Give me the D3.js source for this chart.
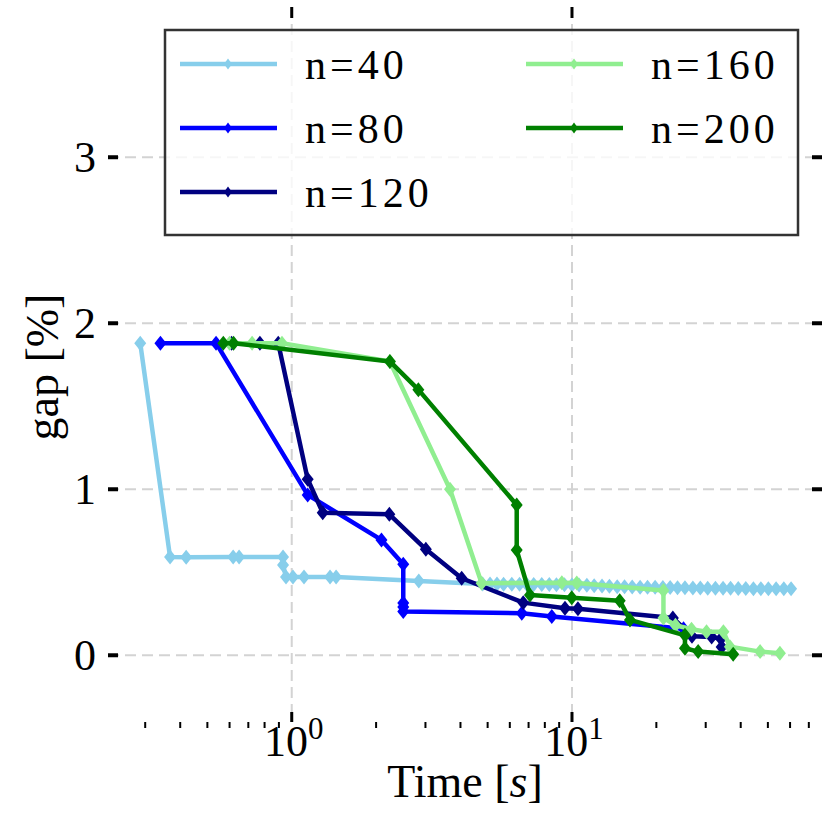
<!DOCTYPE html>
<html>
<head>
<meta charset="utf-8">
<script src="https://cdn.jsdelivr.net/npm/d3@7"></script>
<style>
  body { margin: 0; background: #fff; }
  text { font-family: "Liberation Serif", "DejaVu Serif", serif; fill: #000; }
</style>
</head>
<body>
<div id="chart"></div>
<script>
'use strict';

// series: [time (s), gap (%)]
const n40 = [
    [0.288, 1.88], [0.368, 0.592], [0.42, 0.59], [0.618, 0.592], [0.649, 0.592],
    [0.931, 0.592], [0.931, 0.544], [0.954, 0.472], [1.01, 0.472], [1.106, 0.472],
    [1.37, 0.472], [1.44, 0.472], [2.84, 0.448],
    [4.8, 0.43], [5.1, 0.43], [5.4, 0.43], [5.7, 0.428], [6.1, 0.428], [6.5, 0.428],
    [6.9, 0.427], [7.3, 0.427], [7.8, 0.426], [8.3, 0.426], [8.8, 0.425], [9.4, 0.425],
    [10.0, 0.424], [10.6, 0.423], [11.3, 0.421], [12.0, 0.419], [12.8, 0.417], [13.6, 0.415],
    [14.5, 0.413], [15.4, 0.412], [16.4, 0.411], [17.5, 0.41], [18.6, 0.41], [19.8, 0.409],
    [21.1, 0.408], [22.4, 0.408], [23.8, 0.407], [25.3, 0.406], [27.0, 0.405], [28.7, 0.405],
    [30.5, 0.404], [32.5, 0.404], [34.6, 0.403], [36.8, 0.403], [39.2, 0.402], [41.7, 0.402],
    [44.4, 0.401], [47.2, 0.401], [50.2, 0.40], [53.5, 0.40], [57.0, 0.40], [60.5, 0.40]
];
const n80 = [
    [0.34, 1.88], [0.537, 1.88], [1.14, 0.966], [2.09, 0.695], [2.5, 0.548],
    [2.5, 0.315], [2.5, 0.29], [2.5, 0.263], [6.62, 0.253], [8.47, 0.233], [25.0, 0.16]
];
const n120 = [
    [0.61, 1.88], [0.77, 1.88], [0.895, 1.88], [1.14, 1.06], [1.29, 0.859], [2.23, 0.849],
    [3.01, 0.638], [4.04, 0.464], [6.7, 0.317], [9.44, 0.283], [10.5, 0.28], [22.9, 0.225],
    [26.8, 0.115], [31.5, 0.11], [34.0, 0.10], [34.2, 0.05]
];
const n160 = [
    [0.60, 1.88], [0.722, 1.88], [0.923, 1.88], [2.24, 1.77], [3.67, 1.0], [4.76, 0.434],
    [9.2, 0.437], [10.4, 0.435], [21.2, 0.39], [21.2, 0.225], [23.4, 0.181], [26.7, 0.157],
    [30.2, 0.142], [34.7, 0.142], [36.6, 0.052], [46.9, 0.022], [55.2, 0.012]
];
const n200 = [
    [0.57, 1.88], [0.62, 1.88], [2.24, 1.77], [2.83, 1.60], [6.35, 0.905], [6.35, 0.634],
    [7.08, 0.363], [9.98, 0.347], [14.8, 0.329], [16.1, 0.213], [25.3, 0.12], [25.3, 0.042],
    [28.2, 0.022], [37.6, 0.006]
];

const seriesNames = ['n=40', 'n=80', 'n=120', 'n=160', 'n=200'];
const seriesColors = ['#87ceeb', '#0000ff', '#000080', '#90ee90', '#008000'];
const seriesData = [n40, n80, n120, n160, n200];

const yTicks = [0, 1, 2, 3];
const xTicks = [1, 10];
const xMinorTicks = [0.3, 0.4, 0.5, 0.6, 0.7, 0.8, 0.9, 2, 3, 4, 5, 6, 7, 8, 9, 20, 30, 40, 50, 60, 70];

// dimensions of the plot area
var margin = {top: 7, right: 8, bottom: 108, left: 108},
    W = 830, H = 830,
    width = W - margin.left - margin.right,
    height = H - margin.top - margin.bottom;

var x = d3.scaleLog().domain([0.221, 78]).range([0, width]);
var y = d3.scaleLinear().domain([-0.402, 3.905]).range([height, 0]);

var svg = d3.select('#chart').append('svg')
    .attr('width', W).attr('height', H);
var g = svg.append('g')
    .attr('transform', 'translate(' + margin.left + ',' + margin.top + ')');

// grid
g.selectAll('.gx').data(xTicks).enter().append('line')
    .attr('x1', d => x(d)).attr('x2', d => x(d))
    .attr('y1', 0).attr('y2', height)
    .attr('stroke', '#d3d3d3').attr('stroke-width', 2).attr('stroke-dasharray', '11,6');
g.selectAll('.gy').data(yTicks).enter().append('line')
    .attr('x1', 0).attr('x2', width)
    .attr('y1', d => y(d)).attr('y2', d => y(d))
    .attr('stroke', '#d3d3d3').attr('stroke-width', 2).attr('stroke-dasharray', '11,6');

// ticks (major pointing in, minor pointing out at the bottom)
var tk = g.append('g').attr('stroke', '#000');
xTicks.forEach(function(d){
    tk.append('line').attr('x1', x(d)).attr('x2', x(d)).attr('y1', height).attr('y2', height - 10).attr('stroke-width', 3);
    tk.append('line').attr('x1', x(d)).attr('x2', x(d)).attr('y1', 0).attr('y2', 11).attr('stroke-width', 3);
});
xMinorTicks.forEach(function(d){
    tk.append('line').attr('x1', x(d)).attr('x2', x(d)).attr('y1', height).attr('y2', height + 6).attr('stroke-width', 2);
});
yTicks.forEach(function(d){
    tk.append('line').attr('x1', 0).attr('x2', 10).attr('y1', y(d)).attr('y2', y(d)).attr('stroke-width', 4);
    tk.append('line').attr('x1', width).attr('x2', width - 10).attr('y1', y(d)).attr('y2', y(d)).attr('stroke-width', 4);
});

// tick labels
g.selectAll('.yl').data(yTicks).enter().append('text')
    .attr('x', -12).attr('y', d => y(d)).attr('dy', '0.34em')
    .attr('text-anchor', 'end').attr('font-size', 44)
    .text(d => d);
xTicks.forEach(function(d){
    var t = g.append('text')
        .attr('x', x(d) + 2).attr('y', height + 34)
        .attr('text-anchor', 'middle').attr('font-size', 44);
    t.append('tspan').text('10');
    t.append('tspan').attr('font-size', 31).attr('dy', -17).text(Math.round(Math.log10(d)));
});

// axis titles
var xt = svg.append('text')
    .attr('x', 465).attr('y', 797)
    .attr('text-anchor', 'middle').attr('font-size', 46);
xt.append('tspan').text('Time [');
xt.append('tspan').attr('font-style', 'italic').text('s');
xt.append('tspan').text(']');
svg.append('text')
    .attr('transform', 'translate(58,367) rotate(-90)')
    .attr('text-anchor', 'middle').attr('font-size', 46)
    .text('gap [%]');

// lines and markers
var line = d3.line().x(d => x(d[0])).y(d => y(d[1]));
var diamond = function(h, w){ return 'M0,' + (-h) + 'L' + w + ',0L0,' + h + 'L' + (-w) + ',0Z'; };

seriesData.forEach(function(data, i){
    var s = g.append('g');
    s.append('path').datum(data)
        .attr('d', line)
        .attr('fill', 'none')
        .attr('stroke', seriesColors[i])
        .attr('stroke-width', 4.5)
        .attr('stroke-linejoin', 'round');
    s.selectAll('path.m').data(data).enter().append('path')
        .attr('class', 'm')
        .attr('d', diamond(7.5, 6))
        .attr('transform', d => 'translate(' + x(d[0]) + ',' + y(d[1]) + ')')
        .attr('fill', seriesColors[i]);
});

// legend
var lg = svg.append('g');
lg.append('rect')
    .attr('x', 165).attr('y', 30).attr('width', 633).attr('height', 205)
    .attr('fill', '#fff').attr('fill-opacity', 0.8)
    .attr('stroke', '#333').attr('stroke-width', 2.5);
seriesNames.forEach(function(name, i){
    var col = i < 3 ? 0 : 1, row = i < 3 ? i : i - 3;
    var lx = 180 + col * 346, ly = 64 + row * 64;
    lg.append('line').attr('x1', lx).attr('x2', lx + 97).attr('y1', ly).attr('y2', ly)
        .attr('stroke', seriesColors[i]).attr('stroke-width', 4.5);
    lg.append('path').attr('d', diamond(5.5, 4))
        .attr('transform', 'translate(' + (lx + 48) + ',' + ly + ')')
        .attr('fill', seriesColors[i]);
    lg.append('text').attr('x', lx + 125).attr('y', ly).attr('dy', '0.36em')
        .attr('font-size', 42).attr('letter-spacing', 4).text(name);
});
</script>
</body>
</html>
